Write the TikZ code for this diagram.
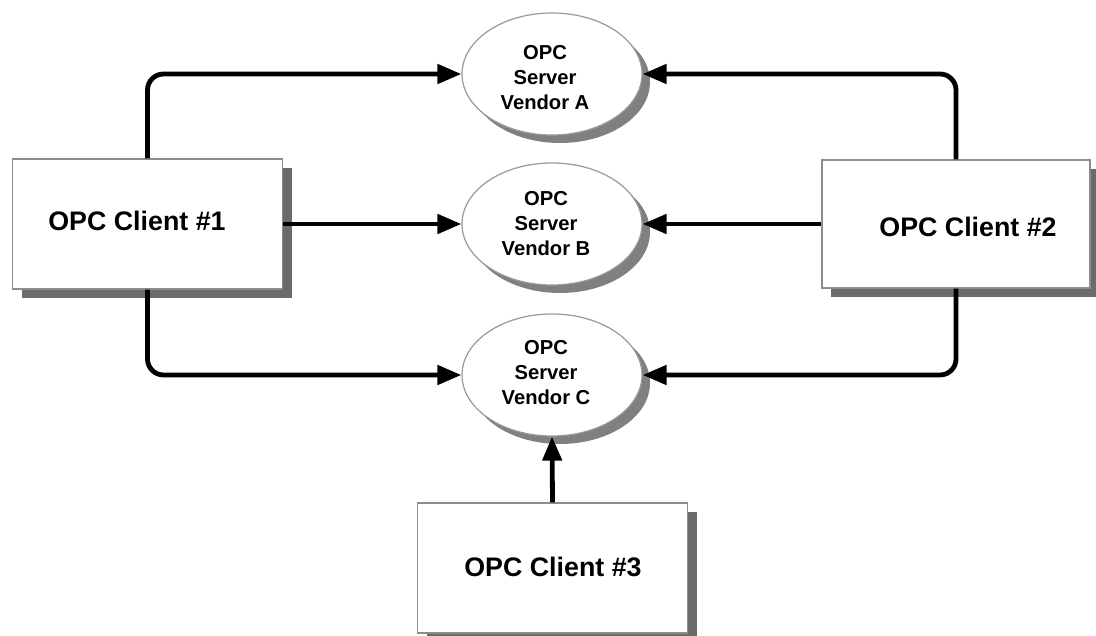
\documentclass[tikz,border=0pt]{standalone}
\usepackage{fontspec}
\setmainfont{Liberation Sans}
\usetikzlibrary{arrows.meta,shadows,shapes.geometric}
\begin{document}
\begin{tikzpicture}[x=0.5pt,y=-0.5pt,
  clientbox/.style={draw=black!45, line width=0.7pt, fill=white,
    minimum width=135pt, minimum height=65pt, inner sep=0pt,
    general shadow={fill=black!58, shadow xshift=4.5pt, shadow yshift=-4.5pt}},
  clienttext/.style={font=\bfseries\fontsize{13.4}{16}\selectfont, inner sep=0pt},
  server/.style={ellipse, draw=black!40, line width=0.6pt, fill=white,
    minimum width=90pt, minimum height=61pt, inner sep=0pt,
    general shadow={fill=black!50, shadow xshift=4pt, shadow yshift=-4pt}},
  servertext/.style={font=\bfseries\fontsize{10.1}{12.5}\selectfont, align=center, inner sep=0pt},
  conn/.style={line width=2.4pt, rounded corners=8pt,
    -{Triangle[length=12pt,width=9.5pt]}}]
\useasboundingbox (0,0) rectangle (1096,636);

% servers
\node[server] (sa) at (552,74) {};
\node[server] (sb) at (552,224) {};
\node[server] (sc) at (552,375) {};
\node[servertext] (sat) at (545,78) {OPC\\Server\\Vendor A};
\node[servertext] (sbt) at (546,224) {OPC\\Server\\Vendor B};
\node[servertext] (sct) at (546,373) {OPC\\Server\\Vendor C};

% clients
\node[clientbox] (c1) at (147.5,224) {};
\node[clientbox, minimum width=134pt, minimum height=64pt] (c2) at (956,224) {};
\node[clientbox] (c3) at (552.5,568) {};
\node[clienttext] (c1t) at (137,221) {OPC Client \#1};
\node[clienttext] (c2t) at (968,227) {OPC Client \#2};
\node[clienttext] (c3t) at (553,567) {OPC Client \#3};

% connections
\draw[conn] (c1.north) |- (sa.west);
\draw[conn] (c1.east) -- (sb.west);
\draw[conn] (c1.south) |- (sc.west);
\draw[conn] (c2.north) |- (sa.east);
\draw[conn] (c2.west) -- (sb.east);
\draw[conn] (c2.south) |- (sc.east);
\draw[conn] (c3.north) -- (sc.south);
\end{tikzpicture}
\end{document}
